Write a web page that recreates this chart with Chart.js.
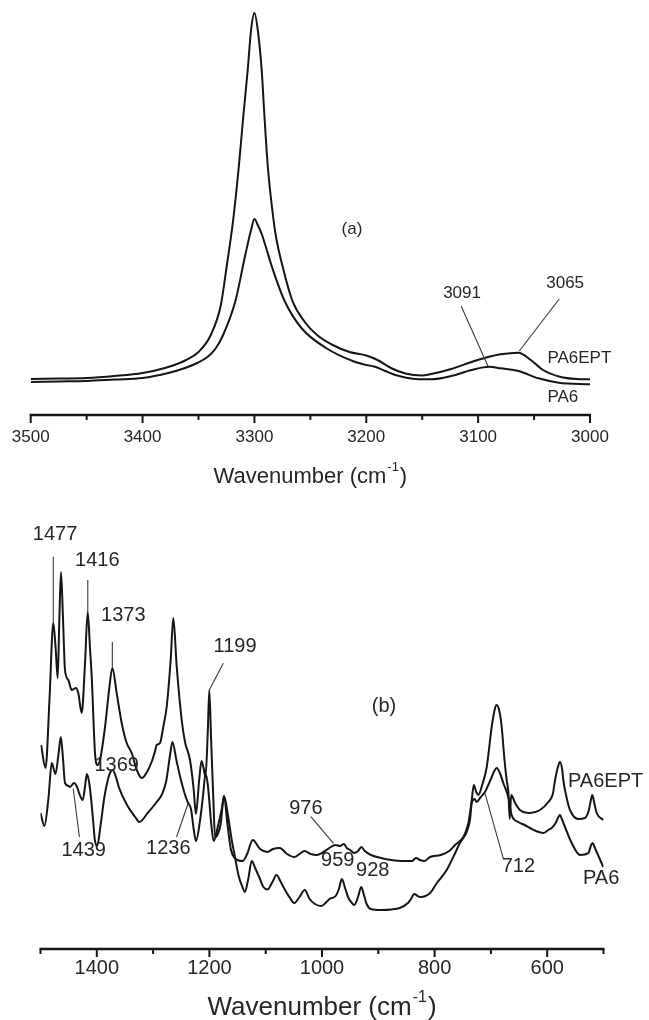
<!DOCTYPE html>
<html>
<head>
<meta charset="utf-8">
<script src="https://cdn.jsdelivr.net/npm/chart.js@4.4.0/dist/chart.umd.min.js"></script>
<style>
  html, body { margin: 0; padding: 0; background: #fff; }
  #wrap { position: relative; width: 649px; height: 1020px; }
  canvas { position: absolute; left: 0; }
  #chartA { top: 0; }
  #chartB { top: 500px; }
</style>
</head>
<body>
<div id="wrap">
  <canvas id="chartA" width="649" height="500"></canvas>
  <canvas id="chartB" width="649" height="520"></canvas>
</div>
<script>
// (a) N-H stretching region, 3500-3000 cm-1
const pa6eptA_wn = [3500, 3475, 3450, 3425, 3400, 3380, 3361, 3350, 3339, 3330, 3325, 3319, 3314, 3310, 3306, 3303, 3300, 3297, 3293.5, 3291, 3288, 3284, 3281, 3274, 3266, 3255, 3244, 3230, 3215, 3200, 3190, 3178, 3165, 3150, 3142, 3124, 3106, 3092, 3080, 3064, 3053, 3042, 3027, 3012, 3000];
const pa6eptA_abs = [36, 36.5, 37, 39, 42, 47, 55, 63, 80, 110, 147, 195, 248, 298, 345, 385, 402, 385, 345, 298, 248, 205, 180, 145, 114, 93, 80, 70, 63, 59.5, 55, 47, 41.5, 39.5, 41, 46, 53, 57.7, 60.7, 62.3, 55, 45, 38.3, 36, 35.7];

const pa6A_wn = [3500, 3475, 3450, 3425, 3400, 3377, 3362, 3351, 3342, 3335, 3328, 3317, 3308, 3303, 3300, 3297, 3293.5, 3284, 3273, 3258, 3236, 3211, 3200, 3193, 3183, 3174, 3156, 3142, 3124, 3106, 3090, 3080, 3064, 3046, 3028, 3000];
const pa6A_abs = [33, 33.5, 34, 35.5, 37, 42, 47, 52, 58, 66, 80, 114, 161, 185, 196, 190, 181, 147, 114, 87, 67, 53.5, 50, 48.5, 44, 40, 36, 35.7, 39, 45, 48.3, 46.7, 44, 36.7, 32.3, 30.7];

const ticksA = [3500, 3400, 3300, 3200, 3100, 3000];

// (b) fingerprint region, 1500-500 cm-1
const pa6eptB_wn = [1499, 1491, 1484, 1477.3, 1473, 1469.5, 1466.5, 1463.6, 1460, 1456.5, 1450.6, 1444.6, 1437, 1432.9, 1426.8, 1421, 1416.2, 1412, 1409, 1403.2, 1399, 1394.3, 1385.4, 1378, 1372.4, 1364.7, 1355.8, 1346.9, 1338, 1329, 1320, 1310, 1302, 1296.5, 1293.6, 1287.7, 1282, 1275.9, 1268.8, 1264.1, 1258, 1249.2, 1243.3, 1234.5, 1228, 1224, 1218, 1214, 1210, 1207, 1203, 1200.2, 1197, 1193, 1190, 1185, 1180, 1174, 1168, 1162, 1155, 1141, 1133, 1123, 1110, 1097, 1087, 1075, 1062, 1049, 1040, 1031, 1020, 1009, 1000, 987, 976, 968, 961, 956, 950, 943, 936, 930, 924, 913, 895, 877, 858, 840, 833, 826, 818, 808, 789, 774, 763.7, 749, 740, 734, 730.4, 726, 722.4, 715, 707.4, 698.6, 693, 689.7, 685, 680.8, 676, 672, 669, 666.5, 664, 657, 648.3, 630.6, 612.8, 598, 590, 586, 581, 577.3, 573, 571.4, 565, 559.5, 544.8, 532.9, 526, 522, 519.8, 516, 512.1, 500.3];
const pa6eptB_abs = [204, 181, 250, 326, 300, 271, 330, 377, 330, 279, 269, 259, 261, 256, 236, 285, 337, 300, 272, 196, 184, 189, 222, 260, 281, 256, 226, 206, 196, 179, 171, 178, 188, 198, 204, 206, 222, 242, 289, 331, 282, 229, 207, 189, 160, 135, 170, 188, 180, 172, 215, 259, 210, 150, 112, 115, 125, 153, 125, 100, 91, 88, 95, 109, 100, 97, 100, 101, 95, 92, 95, 98, 95, 94, 96, 101, 104, 103, 105, 101, 99, 96, 98, 102, 98, 94, 91, 89, 88, 88, 91, 89, 88, 92, 94, 98, 104, 112, 126, 149, 164, 157, 154, 165, 182, 222, 240, 244, 238, 222, 190, 169, 157, 130, 154, 146, 139, 136, 139, 147, 155, 169, 182, 187, 178, 169, 150, 139, 130, 131, 139, 150, 154, 145, 136, 129];

const pa6B_wn = [1500, 1493, 1486, 1480, 1473.4, 1468, 1463.9, 1460, 1456.5, 1450, 1447.7, 1440.4, 1435, 1430.8, 1425, 1421, 1417.6, 1414, 1411, 1406, 1403.7, 1399.3, 1393, 1386.8, 1380, 1375.8, 1372, 1366, 1361, 1346.4, 1331.7, 1324.4, 1309.7, 1295, 1284, 1276.7, 1269.4, 1265.7, 1258.3, 1251, 1243.7, 1237.8, 1232.7, 1227.5, 1223.9, 1215.8, 1211, 1207, 1203, 1196, 1192.3, 1184, 1178, 1174, 1166.6, 1160, 1155.6, 1148, 1141, 1137.2, 1131, 1124.8, 1118, 1111.6, 1104, 1096.9, 1089, 1080.7, 1074, 1067.5, 1058, 1049.2, 1040, 1030.8, 1022, 1012.5, 1001.5, 992, 986.8, 975.8, 970, 964.8, 959, 953.8, 947, 942.7, 936, 930.3, 925, 920.7, 913.4, 895, 876.7, 862, 847.3, 842, 836.3, 830, 825.3, 808, 796, 778.5, 766, 755, 743, 737, 734, 729, 725.2, 718, 710.5, 700, 694, 689.7, 684, 678, 669.1, 663.1, 651.3, 640, 630.6, 620, 606.9, 598, 592, 585, 580, 577.3, 574, 568.4, 556.5, 541.7, 526.9, 522, 519.2, 516, 512.1, 500.3];
const pa6B_abs = [136, 123, 150, 186, 175, 195, 212, 190, 166, 163, 162, 166, 162, 155, 149, 162, 175, 168, 155, 125, 110, 103, 125, 151, 170, 177, 179, 172, 162, 144, 132, 127, 136, 146, 155, 168, 196, 207, 188, 170, 155, 146, 140, 118, 108, 132, 155, 175, 165, 121, 108, 125, 140, 153, 132, 108, 95, 73, 61.5, 57, 70, 88, 80, 72, 62, 59.5, 66, 74, 68, 61, 52, 46, 52, 59, 50, 45, 43, 47, 50, 53, 60, 70, 61, 52, 46, 44, 52, 62, 53, 45, 40, 39, 39.5, 41, 46, 50, 55, 53, 52, 56, 66, 79, 93, 106, 117, 130, 146, 150, 147, 152, 157, 170, 178, 181, 176, 166, 152, 134, 127, 124, 121, 118, 116, 119, 121, 126, 132, 134, 130, 122, 106, 94, 96, 104, 106, 102, 97, 82];

const ticksB = [1400, 1200, 1000, 800, 600];

// peak labels, placed in data coordinates
const notesA = [
  { text: '(a)', x: 3212.8, y: 185.8 },
  { text: '3091', x: 3114.4, y: 122, line: [3115.2, 109, 3091.3, 49] },
  { text: '3065', x: 3022.2, y: 132, line: [3027.5, 116, 3063.2, 64] },
  { text: 'PA6EPT', x: 3038.1, y: 57, align: 'left' },
  { text: 'PA6', x: 3038.1, y: 18, align: 'left' }
];
const notesB = [
  { text: '1477', x: 1474.2, y: 415, line: [1477.3, 392.3, 1477.3, 326] },
  { text: '1416', x: 1399.1, y: 389, line: [1416, 369, 1416, 337] },
  { text: '1373', x: 1352.9, y: 334, line: [1372.4, 307.3, 1372.4, 281] },
  { text: '1199', x: 1154.5, y: 302.3, line: [1175.3, 285.7, 1200.2, 259] },
  { text: '1369', x: 1364.7, y: 184 },
  { text: '1439', x: 1423.4, y: 98.8, line: [1430.9, 112, 1441.9, 160.4] },
  { text: '1236', x: 1273, y: 100.7, line: [1258.4, 112, 1237.8, 145.5] },
  { text: '976', x: 1028.6, y: 140.7, line: [1019.9, 132.3, 979.6, 105.7] },
  { text: '959', x: 972.1, y: 89 },
  { text: '928', x: 909.8, y: 79 },
  { text: '712', x: 651.3, y: 82.3, line: [678, 90.7, 710.5, 155.7] },
  { text: 'PA6EPT', x: 563.1, y: 167.3, align: 'left' },
  { text: 'PA6', x: 536.4, y: 70.7, align: 'left' },
  { text: '(b)', x: 889.9, y: 242.4 }
];

const inkColor = '#151515';
const textColor = '#262626';
const fontFamily = '"Liberation Sans", Arial, Helvetica, sans-serif';
Chart.defaults.font.family = fontFamily;

function toPoints(wn, ab) {
  return wn.map((w, i) => ({ x: w, y: ab[i] }));
}

// axis line + long/short tick marks
const axisTicks = {
  id: 'axisTicks',
  afterDraw(chart, args, opts) {
    const sc = chart.scales.x, ctx = chart.ctx, a = chart.chartArea;
    ctx.save();
    ctx.strokeStyle = inkColor;
    ctx.lineWidth = 2.5;
    ctx.beginPath();
    ctx.moveTo(a.left - 1, a.bottom);
    ctx.lineTo(a.right + 1, a.bottom);
    ctx.stroke();
    ctx.lineWidth = 2;
    sc.ticks.forEach(t => {
      const px = sc.getPixelForValue(t.value);
      const len = opts.labels.includes(t.value) ? opts.major : opts.minor;
      ctx.beginPath();
      ctx.moveTo(px, a.bottom);
      ctx.lineTo(px, a.bottom + len);
      ctx.stroke();
    });
    ctx.restore();
  }
};

// peak numbers with their leader lines
const peakNotes = {
  id: 'peakNotes',
  afterDatasetsDraw(chart, args, opts) {
    const { ctx, scales: { x, y } } = chart;
    ctx.save();
    ctx.strokeStyle = '#3a3a3a';
    ctx.lineWidth = 1.1;
    ctx.fillStyle = textColor;
    ctx.font = opts.size + 'px ' + fontFamily;
    ctx.textBaseline = 'middle';
    opts.notes.forEach(n => {
      if (n.line) {
        ctx.beginPath();
        ctx.moveTo(x.getPixelForValue(n.line[0]), y.getPixelForValue(n.line[1]));
        ctx.lineTo(x.getPixelForValue(n.line[2]), y.getPixelForValue(n.line[3]));
        ctx.stroke();
      }
      ctx.textAlign = n.align || 'center';
      ctx.fillText(n.text, x.getPixelForValue(n.x), y.getPixelForValue(n.y));
    });
    ctx.restore();
  }
};

// "Wavenumber (cm-1)" with a raised -1
const axisTitle = {
  id: 'axisTitle',
  afterDraw(chart, args, opts) {
    const ctx = chart.ctx, a = chart.chartArea;
    const supSize = Math.round(opts.size * 0.6);
    const main = 'Wavenumber (cm', sup = '-1', tail = ')';
    ctx.save();
    ctx.fillStyle = textColor;
    ctx.textBaseline = 'middle';
    ctx.textAlign = 'left';
    ctx.font = opts.size + 'px ' + fontFamily;
    const w1 = ctx.measureText(main).width;
    const w3 = ctx.measureText(tail).width;
    ctx.font = supSize + 'px ' + fontFamily;
    const w2 = ctx.measureText(sup).width;
    const x0 = (a.left + a.right) / 2 - (w1 + w2 + w3 + 2) / 2;
    const y0 = a.bottom + opts.offset;
    ctx.font = opts.size + 'px ' + fontFamily;
    ctx.fillText(main, x0, y0);
    ctx.font = supSize + 'px ' + fontFamily;
    ctx.fillText(sup, x0 + w1 + 1, y0 - opts.size * 0.4);
    ctx.font = opts.size + 'px ' + fontFamily;
    ctx.fillText(tail, x0 + w1 + w2 + 2, y0);
    ctx.restore();
  }
};

function lineSet(label, points) {
  return {
    label: label,
    data: points,
    borderColor: inkColor,
    borderWidth: 2,
    pointRadius: 0,
    fill: false,
    cubicInterpolationMode: 'monotone'
  };
}

new Chart(document.getElementById('chartA'), {
  type: 'line',
  data: {
    datasets: [
      lineSet('PA6EPT', toPoints(pa6eptA_wn, pa6eptA_abs)),
      lineSet('PA6', toPoints(pa6A_wn, pa6A_abs))
    ]
  },
  options: {
    responsive: false,
    animation: false,
    events: [],
    layout: { padding: { left: 26, right: 59, top: 0, bottom: 0 } },
    scales: {
      x: {
        type: 'linear', reverse: true, min: 3000, max: 3500,
        afterFit: s => { s.height = 85; },
        border: { display: false },
        grid: { display: false, drawTicks: false },
        ticks: {
          stepSize: 50, autoSkip: false, maxRotation: 0, padding: 11.8,
          color: textColor, font: { size: 17 },
          callback: v => ticksA.includes(v) ? String(v) : ''
        }
      },
      y: { display: false, min: 0, max: 415 }
    },
    plugins: {
      legend: { display: false },
      tooltip: { enabled: false },
      axisTicks: { labels: ticksA, major: 8, minor: 5 },
      peakNotes: { notes: notesA, size: 17 },
      axisTitle: { size: 22, offset: 61.7 }
    }
  },
  plugins: [axisTicks, peakNotes, axisTitle]
});

new Chart(document.getElementById('chartB'), {
  type: 'line',
  data: {
    datasets: [
      lineSet('PA6EPT', toPoints(pa6eptB_wn, pa6eptB_abs)),
      lineSet('PA6', toPoints(pa6B_wn, pa6B_abs))
    ]
  },
  options: {
    responsive: false,
    animation: false,
    events: [],
    layout: { padding: { left: 40.5, right: 45.5, top: 0, bottom: 0 } },
    scales: {
      x: {
        type: 'linear', reverse: true, min: 500, max: 1500,
        afterFit: s => { s.height = 71; },
        border: { display: false },
        grid: { display: false, drawTicks: false },
        ticks: {
          stepSize: 100, autoSkip: false, maxRotation: 0, padding: 7.3,
          color: textColor, font: { size: 20 },
          callback: v => ticksB.includes(v) ? String(v) : ''
        }
      },
      y: { display: false, min: 0, max: 449 }
    },
    plugins: {
      legend: { display: false },
      tooltip: { enabled: false },
      axisTicks: { labels: ticksB, major: 8, minor: 5 },
      peakNotes: { notes: notesB, size: 20 },
      axisTitle: { size: 26, offset: 58.5 }
    }
  },
  plugins: [axisTicks, peakNotes, axisTitle]
});
</script>
</body>
</html>
